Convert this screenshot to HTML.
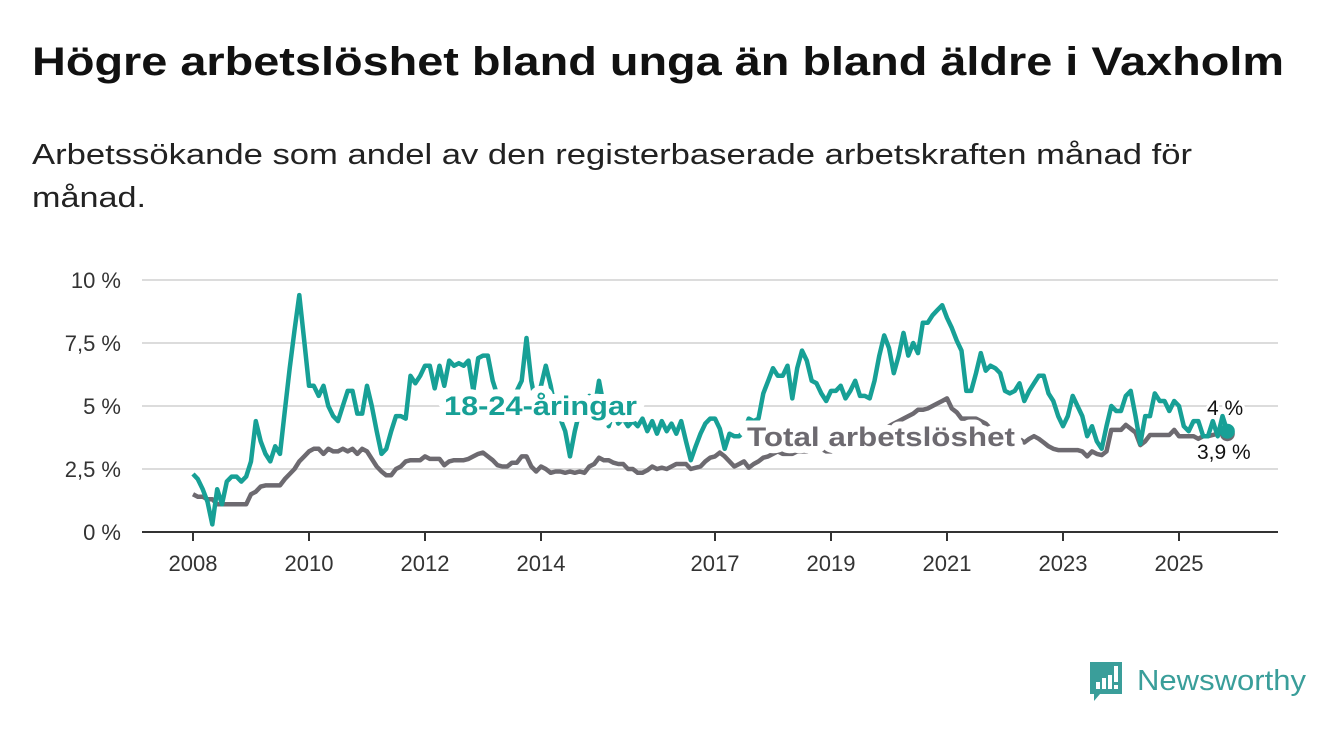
<!DOCTYPE html>
<html><head><meta charset="utf-8"><style>
html,body{margin:0;padding:0;background:#fff;}
svg{display:block;font-family:"Liberation Sans",sans-serif;}
</style></head><body>
<svg id="chart" width="1340" height="734" viewBox="0 0 1340 734">
<text x="32" y="75" font-size="40" font-weight="bold" fill="#111" textLength="1252" lengthAdjust="spacingAndGlyphs">Högre arbetslöshet bland unga än bland äldre i Vaxholm</text>
<text x="32" y="164" font-size="29" fill="#222" textLength="1160" lengthAdjust="spacingAndGlyphs">Arbetssökande som andel av den registerbaserade arbetskraften månad för</text>
<text x="32" y="207" font-size="29" fill="#222" textLength="114" lengthAdjust="spacingAndGlyphs">månad.</text>
<g id="grid"></g>
<g id="series"></g>
<g id="labels"></g>
<g>
<path d="M1090 662 h32 v32 h-22 l-6 7 v-7 h-4 z" fill="#3a9e9a"/>
<rect x="1096" y="682" width="4" height="7" fill="#fff"/><rect x="1102" y="678" width="4" height="11" fill="#fff"/><rect x="1108" y="675" width="4" height="14" fill="#fff"/><rect x="1114" y="666" width="4" height="16" fill="#fff"/><rect x="1114" y="685" width="4" height="4" fill="#fff"/>
<text x="1137" y="690" font-size="29" fill="#3a9e9a" textLength="169" lengthAdjust="spacingAndGlyphs">Newsworthy</text>
</g>
</svg>
<script>
const yTicks = [0, 2.5, 5, 7.5, 10];
const yTickLabels = ["0 %", "2,5 %", "5 %", "7,5 %", "10 %"];
const xTickYears = [2008, 2010, 2012, 2014, 2017, 2019, 2021, 2023, 2025];
const startYear = 2008;
const youth = [
2.3,2.1,1.7,1.2,0.3,1.7,1.1,2.0,2.2,2.2,2.0,2.2,
2.8,4.4,3.6,3.1,2.8,3.4,3.1,4.8,6.5,8.0,9.4,7.6,
5.8,5.8,5.4,5.8,5.0,4.6,4.4,5.0,5.6,5.6,4.7,4.7,
5.8,5.0,4.0,3.1,3.3,4.0,4.6,4.6,4.5,6.2,5.9,6.2,
6.6,6.6,5.7,6.6,5.8,6.8,6.6,6.7,6.6,6.8,5.6,6.9,
7.0,7.0,6.0,5.4,5.2,5.0,5.2,5.6,6.0,7.7,6.0,5.0,
5.8,6.6,5.8,4.8,4.5,4.0,3.0,4.0,4.8,5.0,5.4,4.8,
6.0,5.0,4.2,4.8,4.3,4.5,4.2,4.4,4.2,4.5,4.0,4.4,
3.9,4.4,4.0,4.3,3.9,4.4,3.6,2.85,3.4,3.9,4.3,4.5,
4.5,4.1,3.3,3.9,3.8,3.8,4.0,4.5,4.4,4.5,5.5,6.0,
6.5,6.2,6.2,6.6,5.3,6.5,7.2,6.8,6.0,5.9,5.5,5.2,
5.6,5.6,5.8,5.3,5.6,6.0,5.4,5.4,5.3,6.0,7.0,7.8,
7.3,6.3,7.0,7.9,7.0,7.5,7.1,8.3,8.3,8.6,8.8,9.0,
8.5,8.1,7.6,7.2,5.6,5.6,6.3,7.1,6.4,6.6,6.5,6.3,
5.6,5.5,5.6,5.9,5.2,5.6,5.9,6.2,6.2,5.5,5.2,4.6,
4.2,4.6,5.4,5.0,4.6,3.8,4.2,3.6,3.3,4.2,5.0,4.8,
4.8,5.4,5.6,4.6,3.5,4.6,4.6,5.5,5.2,5.2,4.8,5.2,
5.0,4.2,4.0,4.4,4.4,3.8,3.8,4.4,3.8,4.6,4.0];
const total = [
1.5,1.4,1.4,1.3,1.3,1.1,1.1,1.1,1.1,1.1,1.1,1.1,
1.5,1.6,1.8,1.85,1.85,1.85,1.85,2.1,2.3,2.5,2.8,3.0,
3.2,3.3,3.3,3.1,3.3,3.2,3.2,3.3,3.2,3.3,3.1,3.3,
3.2,2.9,2.6,2.4,2.25,2.25,2.5,2.6,2.8,2.85,2.85,2.85,
3.0,2.9,2.9,2.9,2.65,2.8,2.85,2.85,2.85,2.9,3.0,3.1,
3.15,3.0,2.85,2.65,2.6,2.6,2.75,2.75,3.0,3.0,2.6,2.4,
2.6,2.5,2.35,2.4,2.4,2.35,2.4,2.35,2.4,2.35,2.6,2.7,
2.95,2.85,2.85,2.75,2.7,2.7,2.5,2.5,2.35,2.35,2.45,2.6,
2.5,2.55,2.5,2.6,2.7,2.7,2.7,2.5,2.55,2.6,2.8,2.95,
3.0,3.15,3.0,2.8,2.6,2.7,2.8,2.55,2.7,2.8,2.95,3.0,
3.1,3.2,3.1,3.1,3.1,3.2,3.2,3.2,3.3,3.3,3.3,3.2,
3.2,3.3,3.3,3.3,3.4,3.4,3.5,3.5,3.6,3.7,3.8,4.0,
4.2,4.3,4.4,4.5,4.6,4.7,4.85,4.85,4.9,5.0,5.1,5.2,
5.3,4.9,4.75,4.5,4.5,4.5,4.5,4.4,4.3,4.1,3.9,3.8,
3.7,3.7,3.6,3.7,3.55,3.7,3.8,3.7,3.55,3.4,3.3,3.25,
3.25,3.25,3.25,3.25,3.2,3.0,3.2,3.1,3.05,3.2,4.05,4.05,
4.05,4.25,4.1,3.95,3.45,3.6,3.85,3.85,3.85,3.85,3.85,4.05,
3.8,3.8,3.8,3.8,3.7,3.8,3.8,3.85,3.9,3.9,3.9];

const NS = "http://www.w3.org/2000/svg";
const X0 = 193, PXYEAR = 58, Y0 = 532, PXUNIT = 25.2;
function xMonth(i){ return X0 + i * PXYEAR / 12; }
function xYear(y){ return X0 + (y - startYear) * PXYEAR; }
function yVal(v){ return Y0 - v * PXUNIT; }
function mk(tag, attrs, parent){ const e=document.createElementNS(NS,tag); for(const k in attrs) e.setAttribute(k,attrs[k]); parent.appendChild(e); return e; }

const grid = document.getElementById('grid');
yTicks.forEach((t,i)=>{
  if(t>0){
    const l = mk('line',{x1:142,x2:1278,y1:yVal(t),y2:yVal(t),stroke:'#dcdcdc','stroke-width':2},grid);
    
    
  }
  const tx = mk('text',{x:121,y:yVal(t)+8,'text-anchor':'end','font-size':22,fill:'#333'},grid);
  tx.textContent = yTickLabels[i];
  
  
});
const ax = mk('line',{x1:142,x2:1278,y1:Y0,y2:Y0,stroke:'#333','stroke-width':2},grid);


xTickYears.forEach(y=>{
  const x = xYear(y);
  const tk = mk('line',{x1:x,x2:x,y1:Y0,y2:Y0+9,stroke:'#333','stroke-width':2},grid);
  
  
  const tx = mk('text',{x:x,y:571,'text-anchor':'middle','font-size':22,fill:'#333'},grid);
  tx.textContent = String(y);
  
  
});

const series = document.getElementById('series');
function line(arr,color,name){
  const d = arr.map((v,i)=>(i?'L':'M')+xMonth(i).toFixed(1)+' '+yVal(v).toFixed(1)).join(' ');
  const p = mk('path',{d:d,fill:'none',stroke:color,'stroke-width':4.5,'stroke-linejoin':'round'},series);
  
  
  const n = arr.length-1;
  const c = mk('circle',{cx:xMonth(n),cy:yVal(arr[n]),r:7.5,fill:color},series);
  
  
}
line(total,'#6d6a70','total-line');
line(youth,'#17a096','youth-line');

const labels = document.getElementById('labels');
function lab(x,y,txt,color,size,weight,name,halo,len){
  const t = mk('text',{x:x,y:y,'font-size':size,'font-weight':weight,fill:color,stroke:'#fff','stroke-width':halo,'paint-order':'stroke','stroke-linejoin':'round'},labels);
  if(len){ t.setAttribute('textLength',len); t.setAttribute('lengthAdjust','spacingAndGlyphs'); }
  t.textContent = txt;
  
  
}
lab(444,415,'18-24-åringar','#17a096',27,'bold','youth-series-label',14,193);
lab(747,446,'Total arbetslöshet','#6d6a70',27,'bold','total-series-label',14,268);
lab(1207,415,'4 %','#111',21,'normal','youth-end-value',6);
lab(1197,459,'3,9 %','#111',21,'normal','total-end-value',6);
</script>
</body></html>
